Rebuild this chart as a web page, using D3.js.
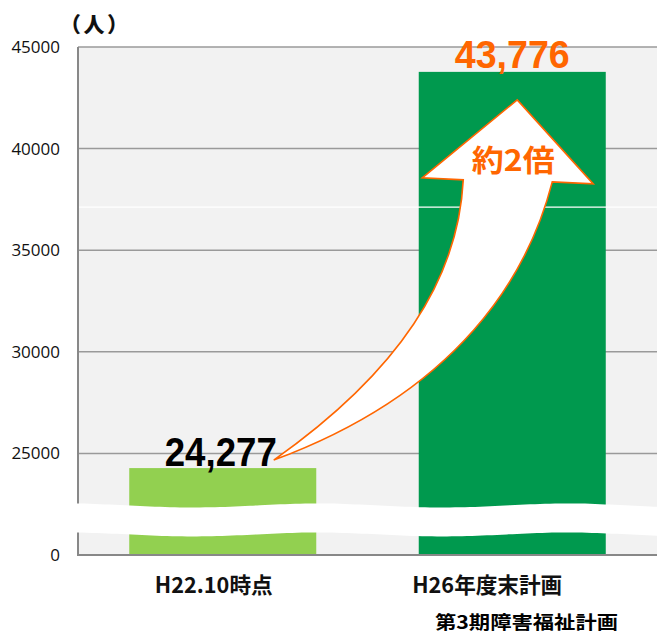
<!DOCTYPE html>
<html><head><meta charset="utf-8">
<script src="https://cdn.jsdelivr.net/npm/d3@7"></script>
<style>body{margin:0;background:#fff}svg{display:block}</style>
</head><body>
<svg id="c" width="657" height="637"></svg>
<script>
// ---- data ----
const categories = ["H22.10時点", "H26年度末計画"];
const values = [24277, 43776];
const valueLabels = ["24,277", "43,776"];
const tickValues = [0, 25000, 30000, 35000, 40000, 45000];
const tickLabels = ["0", "25000", "30000", "35000", "40000", "45000"];
const unitLabel = "（人）";
const ratioLabel = "約2倍";
const sourceLabel = "第3期障害福祉計画";
const barColors = ["#92d050", "#00994e"];

// ---- layout ----
const W = 657, H = 637;
const pLeft = 78, pRight = 657, pTop = 47, pBottom = 555;
const svg = d3.select("#c");

const x = d3.scaleBand().domain(categories).range([pLeft, pRight])
  .paddingInner(0.354).paddingOuter(0.177);
// broken axis: 0..20000 collapsed at the bottom
const y = d3.scaleLinear().domain([0, 20000, 45000]).range([pBottom, pBottom, pTop]);

// plot background
svg.append("rect").attr("x", pLeft).attr("y", pTop).attr("width", pRight - pLeft)
  .attr("height", pBottom - pTop).attr("fill", "#f2f2f2");

// gridlines
svg.append("g").selectAll("line").data(tickValues.filter(v => v > 0)).join("line")
  .attr("x1", pLeft).attr("x2", pRight).attr("y1", d => y(d)).attr("y2", d => y(d))
  .attr("stroke", "#9a9a9a").attr("stroke-width", 1.5);

// bars
svg.append("g").selectAll("rect").data(values).join("rect")
  .attr("x", (d, i) => x(categories[i])).attr("width", x.bandwidth())
  .attr("y", d => y(d)).attr("height", d => pBottom - y(d))
  .attr("fill", (d, i) => barColors[i]);

// thin white line artefact
svg.append("line").attr("x1", pLeft).attr("x2", pRight)
  .attr("y1", y(37120)).attr("y2", y(37120)).attr("stroke", "#fff").attr("stroke-width", 1.2);

// axes lines
svg.append("line").attr("x1", pLeft).attr("x2", pLeft).attr("y1", pTop).attr("y2", pBottom)
  .attr("stroke", "#888").attr("stroke-width", 2);
svg.append("line").attr("x1", pLeft - 1).attr("x2", pRight).attr("y1", pBottom).attr("y2", pBottom)
  .attr("stroke", "#888").attr("stroke-width", 2.2);

// y tick labels
svg.append("g").selectAll("text").data(tickValues).join("text")
  .attr("x", 60).attr("y", d => y(d)).attr("dy", "0.35em")
  .attr("text-anchor", "end").attr("font-family", "'Open Sans', sans-serif")
  .attr("font-size", 17).attr("fill", "#111")
  .text((d, i) => tickLabels[i]);

// wavy break band
const wave = px => 2 * Math.sin((px - 130) / 250 * 2 * Math.PI);
const waveTop = d3.range(-20, W + 30, 10).map(px => [px, 505.5 + wave(px)]);
const waveBot = d3.range(W + 20, -30, -10).map(px => [px, 534.5 + wave(px)]);
const wl = d3.line().curve(d3.curveBasis);
svg.append("path")
  .attr("d", wl(waveTop) + wl(waveBot).replace(/^M/, "L") + "Z")
  .attr("fill", "#fff");

// value labels
const xc = i => x(categories[i]) + x.bandwidth() / 2;
svg.append("text").attr("x", xc(0) - 2).attr("y", y(values[0]) - 2)
  .attr("text-anchor", "middle").attr("font-family", "'Liberation Sans', Arial, sans-serif")
  .attr("font-weight", "bold").attr("font-size", 40).attr("fill", "#000")
  .attr("textLength", 112).attr("lengthAdjust", "spacingAndGlyphs")
  .text(valueLabels[0]);
svg.append("text").attr("x", xc(1)).attr("y", y(values[1]) - 4)
  .attr("text-anchor", "middle").attr("font-family", "'Liberation Sans', Arial, sans-serif")
  .attr("font-weight", "bold").attr("font-size", 38).attr("fill", "#ff6600")
  .attr("textLength", 115).attr("lengthAdjust", "spacingAndGlyphs")
  .text(valueLabels[1]);

// curved arrow annotation (anchored to label end and bar 2 top)
const A = [xc(0) + 51, y(values[0]) - 8];      // tail point
const Ht = [xc(1) + 5, y(values[1]) + 28];     // head tip
const P = (dx, dy) => [Ht[0] + dx, Ht[1] + dy];
const Q = (dx, dy) => [A[0] + dx, A[1] + dy];
const shaftL = P(-54, 80), shaftR = P(35, 82);
const ap = d3.path();
ap.moveTo(...A);
ap.bezierCurveTo(...Q(126, -89), ...P(-59, 179), ...shaftL);
ap.lineTo(...P(-95, 78));
ap.lineTo(...Ht);
ap.lineTo(...P(76, 84));
ap.lineTo(...shaftR);
ap.bezierCurveTo(...P(11, 175), ...Q(186, -69), ...A);
ap.closePath();
svg.append("path").attr("d", ap.toString())
  .attr("fill", "#fff").attr("stroke", "#ff6600").attr("stroke-width", 1.6)
  .attr("stroke-linejoin", "miter");

svg.append("text").attr("x", Ht[0] - 4).attr("y", Ht[1] + 71)
  .attr("text-anchor", "middle").attr("font-family", "'Noto Sans CJK JP', sans-serif")
  .attr("font-weight", "bold").attr("font-size", 30).attr("fill", "#ff6600")
  .attr("textLength", 83).attr("lengthAdjust", "spacingAndGlyphs")
  .text(ratioLabel);

// category labels
const catDx = [-9, -25], catLen = [118, 150];
svg.append("g").selectAll("text").data(categories).join("text")
  .attr("x", (d, i) => xc(i) + catDx[i]).attr("y", 593)
  .attr("text-anchor", "middle").attr("font-family", "'Noto Sans CJK JP', sans-serif")
  .attr("font-weight", "bold").attr("font-size", 22).attr("fill", "#111")
  .attr("textLength", (d, i) => catLen[i]).attr("lengthAdjust", "spacingAndGlyphs")
  .text(d => d);

// unit label
svg.append("text").attr("x", 60).attr("y", 32)
  .attr("font-family", "'Noto Sans CJK JP', sans-serif").attr("font-weight", 900)
  .attr("font-size", 21).attr("fill", "#111").attr("letter-spacing", 2.5)
  .text(unitLabel);

// source label
svg.append("text").attr("x", 435).attr("y", 629)
  .attr("font-family", "'Noto Sans CJK JP', sans-serif").attr("font-weight", "bold")
  .attr("font-size", 18).attr("fill", "#000")
  .attr("textLength", 183).attr("lengthAdjust", "spacingAndGlyphs")
  .text(sourceLabel);
</script>
</body></html>
